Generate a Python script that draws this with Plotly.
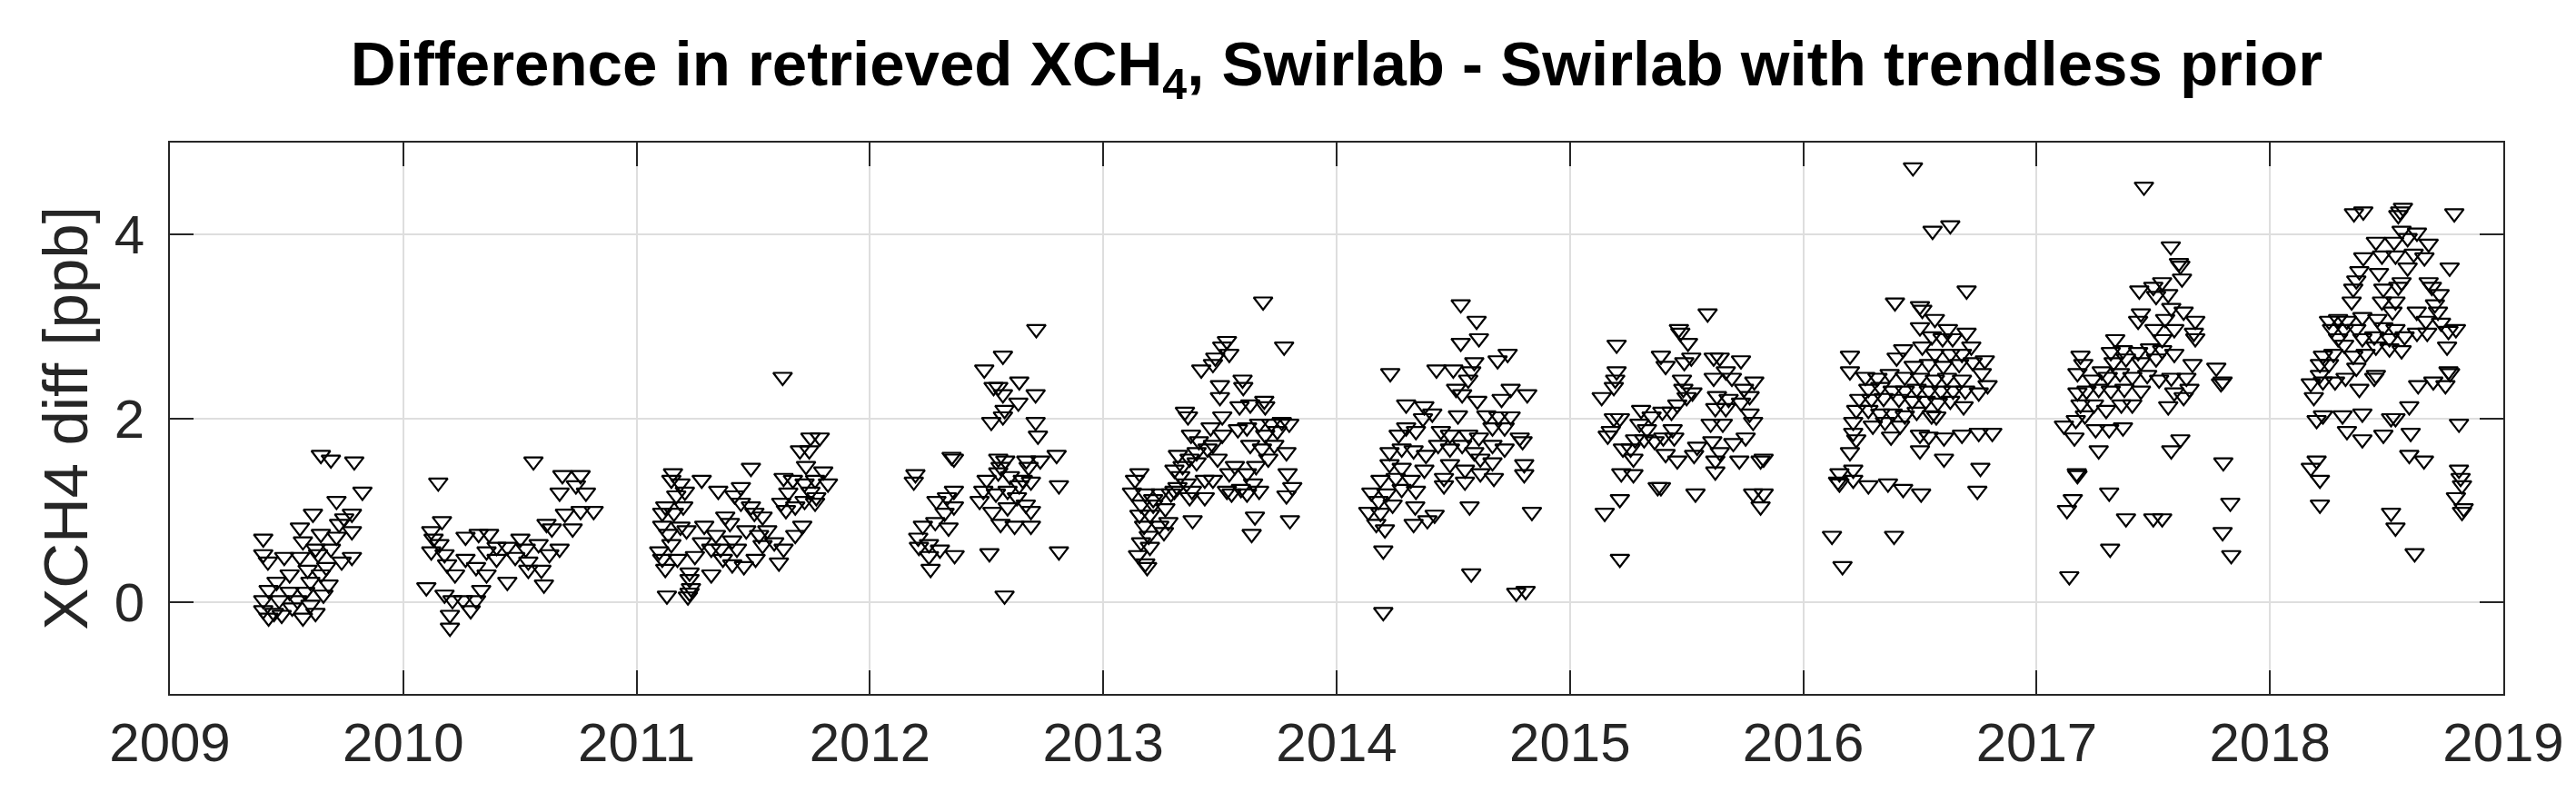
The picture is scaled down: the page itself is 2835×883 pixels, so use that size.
import plotly.graph_objects as go

# ---- data (decimal year, XCH4 difference in ppb) ----
t2009 = [2009.647, 2009.69, 2009.79, 2009.825, 2009.613, 2009.557, 2009.40, 2009.714, 2009.78, 2009.747,
         2009.725, 2009.78, 2009.714, 2009.647, 2009.57, 2009.40, 2009.49, 2009.557, 2009.624, 2009.69,
         2009.78, 2009.736, 2009.42, 2009.67, 2009.59, 2009.647, 2009.513, 2009.457, 2009.602, 2009.68,
         2009.423, 2009.513, 2009.58, 2009.658, 2009.40, 2009.468, 2009.546, 2009.602, 2009.40, 2009.446,
         2009.479, 2009.57, 2009.624, 2009.524, 2009.423, 2009.635]
v2009 = [1.60, 1.55, 1.53, 1.20, 0.96, 0.81, 0.69, 1.10, 0.96, 0.91,
         0.85, 0.77, 0.71, 0.74, 0.66, 0.52, 0.49, 0.49, 0.58, 0.58,
         0.49, 0.44, 0.44, 0.38, 0.35, 0.30, 0.30, 0.22, 0.22, 0.19,
         0.13, 0.11, 0.11, 0.08, 0.02, 0.02, 0.02, -0.03, -0.09, -0.12,
         -0.14, -0.17, -0.12, -0.06, -0.17, 0.52]

t2010 = [2010.558, 2010.15, 2010.166, 2010.12, 2010.13, 2010.155, 2010.12, 2010.177, 2010.188, 2010.099,
         2010.267, 2010.323, 2010.368, 2010.267, 2010.222, 2010.312, 2010.177, 2010.211, 2010.256, 2010.20,
         2010.20, 2010.289, 2010.312, 2010.334, 2010.357, 2010.40, 2010.446, 2010.48, 2010.525, 2010.58,
         2010.536, 2010.592, 2010.626, 2010.67, 2010.603, 2010.614, 2010.637, 2010.67, 2010.682, 2010.74,
         2010.76, 2010.783, 2010.816, 2010.726, 2010.76, 2010.693, 2010.446, 2010.40, 2010.357, 2010.502,
         2010.536]
v2010 = [1.53, 1.30, 0.88, 0.77, 0.69, 0.63, 0.55, 0.52, 0.41, 0.16,
         0.71, 0.74, 0.74, 0.47, 0.30, 0.38, 0.08, 0.02, 0.02, -0.14,
         -0.28, -0.09, 0.02, 0.13, 0.30, 0.47, 0.22, 0.49, 0.58, 0.63,
         0.44, 0.35, 0.52, 0.58, 0.19, 0.85, 0.80, 1.19, 1.38, 1.27,
         1.38, 1.19, 0.99, 0.80, 0.99, 0.96, 0.60, 0.60, 0.55, 0.69,
         0.35]

t2011 = [2011.626, 2011.745, 2011.785, 2011.70, 2011.74, 2011.726, 2011.80, 2011.82, 2011.765, 2011.72,
         2011.67, 2011.63, 2011.65, 2011.745, 2011.77, 2011.72, 2011.765, 2011.49, 2011.156, 2011.279,
         2011.35, 2011.447, 2011.149, 2011.188, 2011.207, 2011.17, 2011.123, 2011.20, 2011.11, 2011.16,
         2011.188, 2011.11, 2011.136, 2011.214, 2011.149, 2011.11, 2011.097, 2011.175, 2011.123, 2011.227,
         2011.227, 2011.233, 2011.22, 2011.13, 2011.227, 2011.29, 2011.34, 2011.28, 2011.32, 2011.25,
         2011.37, 2011.32, 2011.41, 2011.43, 2011.46, 2011.51, 2011.505, 2011.49, 2011.42, 2011.447,
         2011.54, 2011.56, 2011.62, 2011.64, 2011.68, 2011.71, 2011.68, 2011.63, 2011.61, 2011.59,
         2011.54, 2011.47, 2011.40, 2011.41, 2011.36, 2011.525, 2011.38]
v2011 = [2.45, 1.79, 1.79, 1.65, 1.65, 1.48, 1.42, 1.29, 1.33, 1.29,
         1.33, 1.35, 1.19, 1.20, 1.14, 1.10, 1.08, 1.46, 1.40, 1.33,
         1.21, 1.25, 1.33, 1.29, 1.20, 1.16, 1.04, 1.04, 0.97, 0.97,
         0.82, 0.83, 0.74, 0.78, 0.63, 0.47, 0.55, 0.47, 0.36, 0.32,
         0.25, 0.15, 0.06, 0.07, 0.10, 0.83, 0.73, 0.65, 0.58, 0.50,
         0.47, 0.30, 0.41, 0.58, 0.39, 0.47, 0.97, 1.04, 1.16, 1.08,
         0.93, 0.78, 1.08, 1.00, 1.04, 0.83, 0.73, 0.58, 0.43, 0.65,
         0.62, 0.78, 0.86, 0.67, 0.58, 0.73, 0.93]

t2012 = [2012.713, 2012.57, 2012.49, 2012.64, 2012.53, 2012.55, 2012.57, 2012.71, 2012.636, 2012.577,
         2012.57, 2012.52, 2012.71, 2012.72, 2012.80, 2012.35, 2012.36, 2012.55, 2012.58, 2012.67,
         2012.73, 2012.195, 2012.188, 2012.81, 2012.36, 2012.285, 2012.33, 2012.36, 2012.32, 2012.227,
         2012.28, 2012.337, 2012.207, 2012.253, 2012.30, 2012.363, 2012.253, 2012.26, 2012.21, 2012.512,
         2012.81, 2012.577, 2012.50, 2012.55, 2012.60, 2012.655, 2012.69, 2012.47, 2012.54, 2012.59,
         2012.63, 2012.668, 2012.69, 2012.56, 2012.62, 2012.69, 2012.525, 2012.486, 2012.64, 2012.59,
         2012.68, 2012.56]
v2012 = [2.97, 2.68, 2.53, 2.40, 2.34, 2.34, 2.26, 2.26, 2.17, 2.09,
         2.02, 1.96, 1.96, 1.81, 1.60, 1.58, 1.56, 1.56, 1.54, 1.54,
         1.54, 1.39, 1.31, 1.27, 1.21, 1.10, 1.14, 1.04, 0.97, 0.83,
         0.87, 0.81, 0.70, 0.63, 0.57, 0.51, 0.50, 0.36, 0.60, 0.53,
         0.55, 0.07, 1.33, 1.41, 1.37, 1.33, 1.31, 1.10, 1.18, 1.21,
         1.14, 1.06, 0.99, 0.85, 0.83, 0.83, 0.98, 1.21, 1.27, 1.03,
         1.47, 1.47]

t2013 = [2013.685, 2013.775, 2013.53, 2013.51, 2013.54, 2013.48, 2013.47, 2013.42, 2013.597, 2013.60,
         2013.50, 2013.50, 2013.584, 2013.63, 2013.69, 2013.694, 2013.35, 2013.363, 2013.51, 2013.376,
         2013.785, 2013.79, 2013.81, 2013.785, 2013.80, 2013.65, 2013.636, 2013.383,
         2013.46, 2013.51, 2013.577, 2013.616, 2013.668, 2013.72, 2013.765, 2013.797, 2013.746, 2013.694,
         2013.63, 2013.68, 2013.733, 2013.707, 2013.655, 2013.616, 2013.642, 2013.668, 2013.616, 2013.55,
         2013.53, 2013.59, 2013.54, 2013.564, 2013.47, 2013.49, 2013.47, 2013.435, 2013.447, 2013.41,
         2013.40, 2013.40, 2013.37, 2013.34, 2013.32, 2013.305, 2013.33, 2013.357, 2013.38, 2013.435,
         2013.318, 2013.37, 2013.29,
         2013.155, 2013.136, 2013.123, 2013.18, 2013.246, 2013.162, 2013.214, 2013.266, 2013.20, 2013.155,
         2013.279, 2013.24, 2013.175, 2013.26, 2013.195, 2013.162, 2013.20, 2013.149, 2013.18, 2013.188,
         2013.214, 2013.305]
v2013 = [3.27, 2.78, 2.84, 2.78, 2.70, 2.66, 2.59, 2.53, 2.42, 2.34,
         2.36, 2.23, 2.13, 2.15, 2.19, 2.13, 2.07, 2.02, 2.02, 1.82,
         1.63, 1.40, 1.25, 1.16, 0.89, 0.93, 0.74, 0.89,
         1.90, 1.82, 1.88, 1.90, 1.94, 1.94, 1.96, 1.94, 1.86, 1.82,
         1.71, 1.67, 1.71, 1.56, 1.48, 1.40, 1.29, 1.21, 1.18, 1.18,
         1.21, 1.23, 1.40, 1.48, 1.71, 1.56, 1.33, 1.14, 1.67, 1.75,
         1.63, 1.52, 1.56, 1.48, 1.60, 1.44, 1.37, 1.29, 1.21, 1.33,
         1.25, 1.14, 1.18,
         1.40, 1.33, 1.19, 1.18, 1.18, 1.06, 1.06, 1.02, 0.95, 0.95,
         0.87, 0.83, 0.83, 0.76, 0.72, 0.65, 0.60, 0.51, 0.42, 0.38,
         1.12, 1.21]

t2014 = [2014.532, 2014.60, 2014.61, 2014.532, 2014.733, 2014.69, 2014.23, 2014.428, 2014.50, 2014.59,
         2014.577, 2014.564, 2014.512, 2014.538, 2014.746, 2014.817, 2014.603, 2014.707, 2014.298, 2014.376,
         2014.41, 2014.37, 2014.52, 2014.642, 2014.694, 2014.746, 2014.668, 2014.72, 2014.785, 2014.797,
         2014.298, 2014.34, 2014.266, 2014.447, 2014.486, 2014.564, 2014.61, 2014.435, 2014.486, 2014.538,
         2014.59, 2014.668, 2014.72, 2014.227, 2014.279, 2014.33, 2014.383, 2014.616, 2014.668, 2014.486,
         2014.55, 2014.616, 2014.674, 2014.804, 2014.804, 2014.227, 2014.279, 2014.376, 2014.188, 2014.253,
         2014.318, 2014.46, 2014.46, 2014.55, 2014.149, 2014.214, 2014.279, 2014.34, 2014.18, 2014.24,
         2014.136, 2014.188, 2014.337, 2014.57, 2014.837, 2014.17, 2014.207, 2014.33, 2014.389, 2014.42,
         2014.20, 2014.577, 2014.77, 2014.81, 2014.20]
v2014 = [3.24, 3.06, 2.87, 2.82, 2.70, 2.63, 2.49, 2.53, 2.53, 2.61,
         2.51, 2.42, 2.32, 2.26, 2.32, 2.26, 2.19, 2.21, 2.15, 2.13,
         2.05, 2.00, 2.03, 2.03, 2.02, 2.02, 1.90, 1.90, 1.79, 1.75,
         1.90, 1.86, 1.82, 1.86, 1.82, 1.82, 1.79, 1.71, 1.67, 1.71,
         1.63, 1.71, 1.67, 1.63, 1.67, 1.65, 1.60, 1.56, 1.52, 1.50,
         1.44, 1.40, 1.35, 1.50, 1.39, 1.50, 1.46, 1.44, 1.33, 1.35,
         1.33, 1.35, 1.27, 1.31, 1.19, 1.18, 1.23, 1.21, 1.10, 1.06,
         0.98, 0.97, 1.04, 1.04, 0.98, 0.85, 0.79, 0.85, 0.89, 0.95,
         0.56, 0.31, 0.10, 0.12, -0.11]

t2015 = [2015.59, 2015.467, 2015.473, 2015.506, 2015.20, 2015.39, 2015.41, 2015.52, 2015.49, 2015.616,
         2015.642, 2015.733, 2015.20, 2015.194, 2015.188, 2015.136, 2015.48, 2015.486, 2015.525, 2015.50,
         2015.616, 2015.668, 2015.694, 2015.79, 2015.746, 2015.77, 2015.63, 2015.68, 2015.733, 2015.623,
         2015.668, 2015.77, 2015.46, 2015.435, 2015.396, 2015.305, 2015.35, 2015.188, 2015.214, 2015.785,
         2015.603, 2015.655, 2015.44, 2015.298, 2015.175, 2015.33, 2015.162, 2015.279, 2015.40, 2015.447,
         2015.318, 2015.363, 2015.227, 2015.26, 2015.61, 2015.70, 2015.753, 2015.545, 2015.642, 2015.41,
         2015.532, 2015.46, 2015.272, 2015.22, 2015.272, 2015.623, 2015.623, 2015.726, 2015.817, 2015.83,
         2015.39, 2015.376, 2015.538, 2015.214, 2015.785, 2015.83, 2015.817, 2015.149, 2015.214]
v2015 = [3.14, 2.97, 2.93, 2.82, 2.80, 2.68, 2.57, 2.66, 2.61, 2.66,
         2.66, 2.63, 2.51, 2.42, 2.34, 2.23, 2.42, 2.32, 2.28, 2.23,
         2.44, 2.51, 2.44, 2.40, 2.32, 2.24, 2.24, 2.21, 2.17, 2.11,
         2.11, 2.05, 2.15, 2.07, 2.07, 2.09, 2.02, 2.00, 2.00, 1.96,
         1.94, 1.94, 1.88, 1.94, 1.86, 1.88, 1.81, 1.77, 1.79, 1.79,
         1.77, 1.75, 1.67, 1.67, 1.75, 1.73, 1.79, 1.69, 1.63, 1.61,
         1.60, 1.54, 1.56, 1.40, 1.39, 1.54, 1.42, 1.54, 1.54, 1.56,
         1.25, 1.25, 1.18, 1.12, 1.18, 1.18, 1.04, 0.97, 0.47]

t2016 = [2016.47, 2016.554, 2016.63, 2016.70, 2016.393, 2016.50, 2016.51, 2016.564, 2016.50, 2016.62,
         2016.70, 2016.551, 2016.597, 2016.64, 2016.72, 2016.428, 2016.51, 2016.20, 2016.40, 2016.778,
         2016.564, 2016.63, 2016.68, 2016.473, 2016.538, 2016.60, 2016.668, 2016.726, 2016.765, 2016.20,
         2016.266, 2016.79, 2016.752, 2016.318, 2016.37, 2016.435, 2016.50, 2016.564, 2016.616, 2016.68,
         2016.279, 2016.33, 2016.383, 2016.435, 2016.486, 2016.538, 2016.59, 2016.642, 2016.694, 2016.24,
         2016.292, 2016.344, 2016.41, 2016.467, 2016.525, 2016.577, 2016.63, 2016.687, 2016.227, 2016.279,
         2016.33, 2016.383, 2016.435, 2016.486, 2016.55, 2016.57, 2016.214, 2016.298, 2016.35, 2016.415,
         2016.214, 2016.227, 2016.376, 2016.50, 2016.538, 2016.603, 2016.68, 2016.752, 2016.81, 2016.50,
         2016.20, 2016.603, 2016.759, 2016.155, 2016.214, 2016.149, 2016.214, 2016.155, 2016.279, 2016.363,
         2016.428, 2016.505, 2016.746, 2016.123, 2016.389, 2016.168]
v2016 = [4.73, 4.04, 4.10, 3.39, 3.26, 3.22, 3.18, 3.08, 2.99, 2.97,
         2.93, 2.89, 2.87, 2.87, 2.78, 2.75, 2.78, 2.68, 2.66, 2.63,
         2.70, 2.70, 2.70, 2.57, 2.59, 2.57, 2.59, 2.61, 2.49, 2.51,
         2.45, 2.36, 2.28, 2.44, 2.48, 2.45, 2.44, 2.42, 2.44, 2.42,
         2.32, 2.34, 2.30, 2.30, 2.32, 2.30, 2.30, 2.30, 2.30, 2.21,
         2.21, 2.22, 2.21, 2.19, 2.19, 2.17, 2.19, 2.13, 2.09, 2.09,
         2.05, 2.05, 2.03, 2.07, 2.03, 2.02, 1.96, 1.92, 1.96, 1.92,
         1.84, 1.77, 1.80, 1.82, 1.80, 1.79, 1.82, 1.84, 1.84, 1.65,
         1.63, 1.56, 1.46, 1.40, 1.44, 1.31, 1.33, 1.29, 1.27, 1.29,
         1.23, 1.18, 1.21, 0.72, 0.72, 0.39]

t2017 = [2017.46, 2017.575, 2017.61, 2017.616, 2017.623, 2017.538, 2017.50, 2017.44, 2017.512, 2017.564,
         2017.577, 2017.63, 2017.447, 2017.435, 2017.551, 2017.68, 2017.674, 2017.68, 2017.505, 2017.59,
         2017.337, 2017.538, 2017.318, 2017.37, 2017.435, 2017.486, 2017.538, 2017.59, 2017.668, 2017.77,
         2017.797, 2017.79, 2017.188, 2017.20, 2017.175, 2017.279, 2017.33, 2017.383, 2017.447, 2017.512,
         2017.24, 2017.305, 2017.357, 2017.41, 2017.474, 2017.525, 2017.577, 2017.642, 2017.655, 2017.175,
         2017.214, 2017.266, 2017.318, 2017.376, 2017.447, 2017.59, 2017.63, 2017.188, 2017.246, 2017.298,
         2017.363, 2017.41, 2017.564, 2017.207, 2017.168, 2017.117, 2017.253, 2017.311, 2017.37, 2017.162,
         2017.266, 2017.577, 2017.616, 2017.80, 2017.172, 2017.175, 2017.311, 2017.155, 2017.13, 2017.83,
         2017.383, 2017.50, 2017.538, 2017.797, 2017.315, 2017.834, 2017.14]
v2017 = [4.52, 3.87, 3.69, 3.66, 3.52, 3.48, 3.43, 3.39, 3.33, 3.35,
         3.20, 3.16, 3.14, 3.06, 3.08, 3.06, 2.93, 2.87, 2.97, 2.97,
         2.86, 2.86, 2.72, 2.74, 2.72, 2.76, 2.74, 2.70, 2.59, 2.55,
         2.40, 2.38, 2.68, 2.59, 2.49, 2.51, 2.61, 2.65, 2.61, 2.65,
         2.42, 2.45, 2.49, 2.45, 2.47, 2.42, 2.44, 2.44, 2.32, 2.28,
         2.30, 2.32, 2.30, 2.32, 2.30, 2.28, 2.23, 2.15, 2.15, 2.09,
         2.15, 2.15, 2.13, 2.03, 1.98, 1.92, 1.88, 1.88, 1.90, 1.79,
         1.65, 1.65, 1.77, 1.52, 1.40, 1.38, 1.19, 1.12, 1.00, 1.08,
         0.91, 0.91, 0.91, 0.76, 0.58, 0.51, 0.28]

t2018 = [2018.36, 2018.40, 2018.55, 2018.57, 2018.558, 2018.79, 2018.564, 2018.63, 2018.454, 2018.532,
         2018.59, 2018.68, 2018.40, 2018.48, 2018.538, 2018.616, 2018.662, 2018.77, 2018.383, 2018.467,
         2018.59, 2018.37, 2018.564, 2018.68, 2018.357, 2018.486, 2018.55, 2018.694, 2018.727, 2018.35,
         2018.48, 2018.538, 2018.707, 2018.525, 2018.629, 2018.72, 2018.253, 2018.292, 2018.33, 2018.396,
         2018.46, 2018.668, 2018.733, 2018.266, 2018.318, 2018.37, 2018.486, 2018.538, 2018.797, 2018.765,
         2018.63, 2018.674, 2018.292, 2018.396, 2018.447, 2018.512, 2018.577, 2018.759, 2018.318, 2018.454,
         2018.512, 2018.564, 2018.227, 2018.272, 2018.41, 2018.357, 2018.214, 2018.253, 2018.37, 2018.765,
         2018.214, 2018.772, 2018.454, 2018.175, 2018.227, 2018.279, 2018.324, 2018.383, 2018.447, 2018.635,
         2018.70, 2018.752, 2018.188, 2018.597, 2018.20, 2018.227, 2018.311, 2018.396, 2018.519, 2018.538,
         2018.81, 2018.33, 2018.486, 2018.603, 2018.396, 2018.597, 2018.66, 2018.20, 2018.175, 2018.214,
         2018.81, 2018.817, 2018.823, 2018.797, 2018.83, 2018.823, 2018.214, 2018.519, 2018.538, 2018.62]
v2018 = [4.23, 4.25, 4.21, 4.29, 4.25, 4.23, 4.04, 4.02, 3.92, 3.92,
         3.96, 3.90, 3.75, 3.77, 3.77, 3.79, 3.75, 3.64, 3.60, 3.58,
         3.64, 3.50, 3.48, 3.48, 3.41, 3.41, 3.43, 3.43, 3.35, 3.27,
         3.27, 3.27, 3.24, 3.16, 3.16, 3.16, 3.06, 3.08, 3.06, 3.10,
         3.08, 3.06, 3.04, 2.97, 2.97, 2.97, 2.99, 2.97, 2.97, 2.95,
         2.93, 2.93, 2.87, 2.87, 2.89, 2.87, 2.89, 2.78, 2.80, 2.78,
         2.76, 2.74, 2.68, 2.70, 2.70, 2.68, 2.59, 2.59, 2.55, 2.51,
         2.47, 2.49, 2.47, 2.38, 2.40, 2.40, 2.44, 2.32, 2.44, 2.36,
         2.40, 2.36, 2.23, 2.13, 1.98, 2.03, 2.03, 2.05, 2.00, 2.00,
         1.94, 1.86, 1.82, 1.84, 1.77, 1.60, 1.54, 1.54, 1.46, 1.33,
         1.44, 1.35, 1.27, 1.14, 1.02, 0.98, 1.06, 0.97, 0.81, 0.53]

times = t2009 + t2010 + t2011 + t2012 + t2013 + t2014 + t2015 + t2016 + t2017 + t2018
diffs = v2009 + v2010 + v2011 + v2012 + v2013 + v2014 + v2015 + v2016 + v2017 + v2018

year_ticks = [2009, 2010, 2011, 2012, 2013, 2014, 2015, 2016, 2017, 2018, 2019]
y_ticks = [0, 2, 4]

AX = "#262626"
GRID = "rgb(222,222,222)"
FONT = "Liberation Sans"

fig = go.Figure()
fig.add_trace(go.Scatter(
    x=times, y=diffs, mode="markers",
    marker=dict(symbol="triangle-down-open", size=18, color="black",
                line=dict(color="black", width=2.2)),
    showlegend=False, hoverinfo="x+y",
))

fig.update_layout(
    width=2835, height=883,
    paper_bgcolor="white", plot_bgcolor="white",
    margin=dict(l=179, r=88, t=149, b=127),
    title=dict(
        text="Difference in retrieved XCH<sub>4</sub>, Swirlab - Swirlab with trendless prior",
        font=dict(family=FONT, size=69, color="black", weight="bold"),
        x=0.5, xanchor="center", xref="paper",
        y=1 - 62 / 883, yanchor="middle", yref="container",
    ),
    font=dict(family=FONT, color=AX),
)

fig.update_xaxes(
    range=[2009, 2019], tickvals=year_ticks, ticktext=[str(y) for y in year_ticks],
    showgrid=True, gridcolor=GRID, gridwidth=2,
    showline=True, linecolor=AX, linewidth=2, mirror="ticks",
    ticks="inside", ticklen=26, tickwidth=2, tickcolor=AX,
    tickfont=dict(family=FONT, size=60, color=AX),
    ticklabelstandoff=0, zeroline=False,
)
fig.update_yaxes(
    range=[-1, 5], tickvals=y_ticks, ticktext=[str(v) for v in y_ticks],
    showgrid=True, gridcolor=GRID, gridwidth=2,
    showline=True, linecolor=AX, linewidth=2, mirror="ticks",
    ticks="inside", ticklen=26, tickwidth=2, tickcolor=AX,
    tickfont=dict(family=FONT, size=60, color=AX),
    ticklabelstandoff=14, zeroline=False,
    title=dict(text="XCH4 diff [ppb]", font=dict(family=FONT, size=69, color=AX), standoff=6),
)

fig.write_html("out.html")
